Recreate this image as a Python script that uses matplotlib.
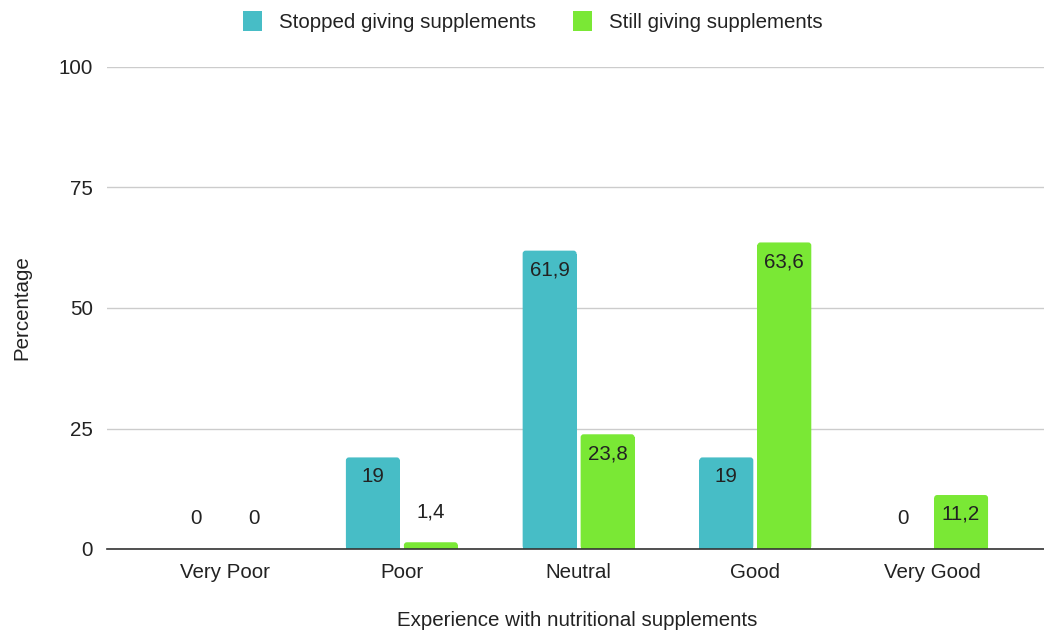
import matplotlib
matplotlib.use("Agg")
import matplotlib.pyplot as plt
from matplotlib.patches import Patch, FancyBboxPatch, Rectangle
import numpy as np

categories = ["Very Poor", "Poor", "Neutral", "Good", "Very Good"]
stopped = [0, 19, 61.9, 19, 0]
still = [0, 1.4, 23.8, 63.6, 11.2]
series_names = ["Stopped giving supplements", "Still giving supplements"]
yticks = [0, 25, 50, 75, 100]

teal = "#47BDC6"
green = "#7AE835"
text_col = "#222222"
fs = 14.8

plt.rcParams["font.family"] = ["Liberation Sans", "DejaVu Sans"]

W, H = 1044, 634
fig = plt.figure(figsize=(W / 100, H / 100), dpi=100)
ax_px = (107, 67, 940, 482)  # left, top, width, height in pixels
ax = fig.add_axes([ax_px[0] / W, 1 - (ax_px[1] + ax_px[3]) / H, ax_px[2] / W, ax_px[3] / H])

xlim = (-0.668, 4.65)
ylim = (0, 100)
ax.set_xlim(*xlim)
ax.set_ylim(*ylim)

x = np.arange(len(categories))
w = 0.305
off = 0.164

# data units per pixel, used for rounded bar tops
ux = (xlim[1] - xlim[0]) / ax_px[2]
uy = (ylim[1] - ylim[0]) / ax_px[3]
radius_px = 3.0


def fmt(v):
    return f"{v:g}".replace(".", ",")


for vals, color, dx in [(stopped, teal, -off), (still, green, off)]:
    bars = ax.bar(x + dx, vals, width=w, color=color, zorder=3)
    for b in bars:
        h = b.get_height()
        if h <= 0:
            continue
        b.set_visible(False)
        rx = radius_px * ux
        ry = radius_px * uy
        ax.add_patch(FancyBboxPatch((b.get_x(), 0), b.get_width(), h,
                                    boxstyle=f"round,pad=0,rounding_size={rx}",
                                    mutation_aspect=uy / ux, facecolor=color,
                                    edgecolor="none", zorder=3))
        ax.add_patch(Rectangle((b.get_x(), 0), b.get_width(), min(h, h - ry) if h > ry else h / 2,
                               facecolor=color, edgecolor="none", zorder=3))
    for xi, v in zip(x + dx, vals):
        if v >= 8:
            ax.annotate(fmt(v), (xi, v), xytext=(0, -14), textcoords="offset points",
                        ha="center", va="center", fontsize=fs, color=text_col, zorder=4)
        else:
            ax.annotate(fmt(v), (xi, v), xytext=(0, 22), textcoords="offset points",
                        ha="center", va="center", fontsize=fs, color=text_col, zorder=4)

ax.set_yticks(yticks)
ax.set_xticks(x)
ax.set_xticklabels(categories)
ax.tick_params(axis="both", length=0, labelsize=fs, colors=text_col)
ax.tick_params(axis="x", pad=10)
ax.tick_params(axis="y", pad=10)
ax.grid(axis="y", color="#cccccc", linewidth=1, zorder=0)
for s in ["top", "right", "left"]:
    ax.spines[s].set_visible(False)
ax.spines["bottom"].set_color("#333333")
ax.spines["bottom"].set_linewidth(1.2)
ax.spines["bottom"].set_zorder(5)

ax.set_ylabel("Percentage", fontsize=fs, color=text_col, labelpad=20)
ax.set_xlabel("Experience with nutritional supplements", fontsize=fs, color=text_col, labelpad=21)

handles = [Patch(facecolor=teal, edgecolor="none"), Patch(facecolor=green, edgecolor="none")]
fig.legend(handles, series_names, loc="center", bbox_to_anchor=(0.51, 0.966), ncol=2,
           frameon=False, fontsize=fs, handlelength=0.95, handleheight=1.15,
           handletextpad=0.8, columnspacing=1.8, labelcolor=text_col)

fig.savefig("out.png", dpi=100)
